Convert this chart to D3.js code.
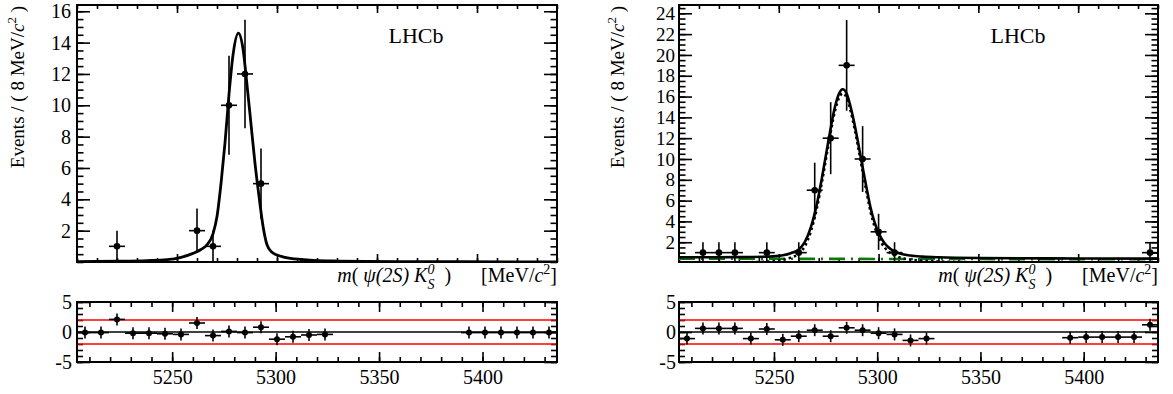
<!DOCTYPE html>
<html>
<head>
<meta charset="utf-8">
<script src="https://cdn.jsdelivr.net/npm/d3@7"></script>
<style>
  body { margin: 0; background: #fff; }
  text { font-family: "Liberation Serif", "Times New Roman", serif; fill: #000; white-space: pre; }
</style>
</head>
<body>
<svg id="chart" width="1173" height="394"></svg>
<script>

// bin centres of the 8 MeV bins between 5200 and 5440
var binCenters = [5204, 5212, 5220, 5228, 5236, 5244, 5252, 5260, 5268, 5276,
                  5284, 5292, 5300, 5308, 5316, 5324, 5332, 5340, 5348, 5356,
                  5364, 5372, 5380, 5388, 5396, 5404, 5412, 5420, 5428, 5436];

var leftCounts  = [0, 0, 1, 0, 0, 0, 0, 2, 1, 10, 12, 5, 0, 0, 0, 0, 0, 0, 0, 0,
                   0, 0, 0, 0, 0, 0, 0, 0, 0, 0];
var rightCounts = [0, 1, 1, 1, 0, 1, 0, 1, 7, 12, 19, 10, 3, 1, 0, 0, 0, 0, 0, 0,
                   0, 0, 0, 0, 0, 0, 0, 0, 0, 1];

var leftPulls  = [-0.1, -0.1, 2.1, -0.2, -0.2, -0.3, -0.4, 1.5, -0.6, 0.1,
                  -0.1, 0.8, -1.2, -0.8, -0.5, -0.4, null, null, null, null,
                  null, null, null, null, -0.1, -0.1, -0.1, -0.1, -0.1, -0.1];
var rightPulls = [-1.1, 0.6, 0.6, 0.6, -1.1, 0.5, -1.3, -0.7, 0.3, -0.7,
                  0.7, 0.3, -0.2, -0.4, -1.4, -1.1, null, null, null, null,
                  null, null, null, null, -0.95, -0.85, -0.85, -0.85, -0.85, 1.2];

// fit curves
var leftFitMass  = [5200, 5220, 5235, 5245, 5252, 5258, 5262, 5265, 5268, 5270, 5272, 5274, 5276, 5278,
                    5280.7, 5283, 5285, 5287, 5289, 5291, 5293, 5295, 5297.5, 5300, 5304, 5312, 5318,
                    5330, 5360, 5440];
var leftFitTotal = [0.03, 0.05, 0.09, 0.15, 0.3, 0.55, 0.8, 1.1, 1.8, 2.9, 5.0, 7.6, 10.7, 13.2,
                    14.6, 13.6, 11.3, 8.8, 6.3, 4.2, 2.3, 1.1, 0.62, 0.45, 0.3, 0.16, 0.1,
                    0.06, 0.03, 0.01];

var rightFitMass   = [5200, 5230, 5245, 5252, 5256, 5260, 5263, 5266, 5269, 5272, 5275, 5278, 5280, 5282,
                      5284, 5286, 5288, 5290, 5292, 5294, 5296, 5298, 5300, 5303, 5306, 5310, 5316,
                      5322, 5330, 5350, 5400, 5440];
var rightFitTotal  = [0.55, 0.57, 0.62, 0.75, 0.95, 1.3, 2.0, 3.4, 5.6, 8.6, 11.9, 14.9, 16.2, 16.7,
                      16.3, 15.0, 13.3, 11.3, 9.2, 7.2, 5.3, 3.9, 2.9, 1.9, 1.35, 0.95, 0.72,
                      0.62, 0.55, 0.48, 0.44, 0.42];
var rightFitSignal = [0.02, 0.06, 0.15, 0.3, 0.52, 0.9, 1.6, 3.0, 5.2, 8.2, 11.5, 14.5, 15.8, 16.3,
                      15.9, 14.6, 12.9, 10.9, 8.8, 6.8, 4.9, 3.5, 2.5, 1.5, 0.95, 0.57, 0.33,
                      0.22, 0.15, 0.07, 0.02, 0.01];
var rightBkgMass  = [5200, 5440];
var rightBkgLevel = [0.42, 0.36];

var massTicks  = [5250, 5300, 5350, 5400];
var leftYTicks  = [2, 4, 6, 8, 10, 12, 14, 16];
var rightYTicks = [2, 4, 6, 8, 10, 12, 14, 16, 18, 20, 22, 24];
var pullYTicks  = [-5, 0, 5];

var svg = d3.select('#chart');

var TOP = 5, BOTTOM = 262, PULL_TOP = 302, PULL_BOTTOM = 362;
var SERIF = '"Liberation Serif", "Times New Roman", serif';

function inwardTicks(g, axis, values, len) {
  g.call(axis.tickValues(values).tickSize(-len).tickFormat(''));
  g.select('.domain').remove();
  g.selectAll('line').attr('stroke', '#000').attr('stroke-width', 1.6);
}

function labels(g, axis, size) {
  g.call(axis)
      .attr('font-family', SERIF)
      .attr('font-size', size);
  g.select('.domain').remove();
}

function zip(xs, ys) {
  return xs.map(function(v, i) { return [v, ys[i]]; });
}

function drawPanel(p) {
  var g = svg.append('g');

  var x = d3.scaleLinear().domain([5200, 5440]).range([p.left, p.right]);
  var xPull = d3.scaleLinear().domain([5204, 5436]).range([p.left, p.right]);
  var y = d3.scaleLinear().domain(p.yDomain).range([BOTTOM, TOP]);
  var yPull = d3.scaleLinear().domain([-5, 5]).range([PULL_BOTTOM, PULL_TOP]);

  var clipId = 'clip' + p.name;
  g.append('clipPath').attr('id', clipId)
      .append('rect')
      .attr('x', p.left).attr('y', TOP)
      .attr('width', p.right - p.left).attr('height', BOTTOM - TOP);

  // ---- main plot ticks
  var minorX = d3.range(5200, 5441, 10);
  var minorY = d3.range(0, p.yDomain[1], 0.5).filter(function(v) { return v >= p.yDomain[0]; });
  inwardTicks(g.append('g').attr('transform', 'translate(0,' + BOTTOM + ')'),
      d3.axisBottom(x), minorX, 4);
  inwardTicks(g.append('g').attr('transform', 'translate(0,' + BOTTOM + ')'),
      d3.axisBottom(x), massTicks, 8);
  inwardTicks(g.append('g').attr('transform', 'translate(0,' + TOP + ')'),
      d3.axisTop(x), minorX, 4);
  inwardTicks(g.append('g').attr('transform', 'translate(0,' + TOP + ')'),
      d3.axisTop(x), massTicks, 8);
  inwardTicks(g.append('g').attr('transform', 'translate(' + p.left + ',0)'),
      d3.axisLeft(y), minorY, 6.5);
  inwardTicks(g.append('g').attr('transform', 'translate(' + p.left + ',0)'),
      d3.axisLeft(y), p.yTicks, 13);
  inwardTicks(g.append('g').attr('transform', 'translate(' + p.right + ',0)'),
      d3.axisRight(y), minorY, 6.5);
  inwardTicks(g.append('g').attr('transform', 'translate(' + p.right + ',0)'),
      d3.axisRight(y), p.yTicks, 13);

  labels(g.append('g').attr('transform', 'translate(' + p.left + ',0)'),
      d3.axisLeft(y).tickValues(p.yTicks).tickSize(0).tickPadding(p.labelPad), p.labelSize);

  g.append('rect')
      .attr('x', p.left).attr('y', TOP)
      .attr('width', p.right - p.left).attr('height', BOTTOM - TOP)
      .attr('fill', 'none').attr('stroke', '#000').attr('stroke-width', 2);

  // ---- fit curves
  var line = d3.line()
      .x(function(d) { return x(d[0]); })
      .y(function(d) { return y(d[1]); })
      .curve(d3.curveMonotoneX);

  var curves = g.append('g').attr('clip-path', 'url(#' + clipId + ')');
  p.curves.forEach(function(c) {
    curves.append('path')
        .attr('d', line(c.points))
        .attr('fill', 'none')
        .attr('stroke', c.color)
        .attr('stroke-width', c.width)
        .attr('stroke-dasharray', c.dash || null);
  });

  // ---- data points
  var pts = binCenters.map(function(m, i) { return { m: m, n: p.counts[i] }; })
      .filter(function(d) { return d.n > 0; });
  var dataG = g.append('g').attr('clip-path', 'url(#' + clipId + ')');
  dataG.selectAll('line.ey').data(pts).enter().append('line')
      .attr('x1', function(d) { return x(d.m); })
      .attr('x2', function(d) { return x(d.m); })
      .attr('y1', function(d) { return y(d.n - Math.sqrt(d.n)); })
      .attr('y2', function(d) { return y(d.n + Math.sqrt(d.n)); })
      .attr('stroke', '#000').attr('stroke-width', 1.6);
  dataG.selectAll('line.ex').data(pts).enter().append('line')
      .attr('x1', function(d) { return x(d.m - 4); })
      .attr('x2', function(d) { return x(d.m + 4); })
      .attr('y1', function(d) { return y(d.n); })
      .attr('y2', function(d) { return y(d.n); })
      .attr('stroke', '#000').attr('stroke-width', 1.6);
  dataG.selectAll('circle').data(pts).enter().append('circle')
      .attr('cx', function(d) { return x(d.m); })
      .attr('cy', function(d) { return y(d.n); })
      .attr('r', 3.3);

  g.append('text')
      .attr('x', p.lhcbX).attr('y', 43)
      .attr('text-anchor', 'middle')
      .style('font-size', '22px')
      .text('LHCb');

  // y title
  var yt = g.append('text')
      .attr('transform', 'translate(' + p.titleX + ',6) rotate(-90)')
      .attr('text-anchor', 'end')
      .style('font-size', '19px');
  yt.append('tspan').text('Events / ( 8 MeV/');
  yt.append('tspan').style('font-style', 'italic').text('c');
  yt.append('tspan').attr('dy', -8).style('font-size', '13px').text('2');
  yt.append('tspan').attr('dy', 8).text(' )');

  // x title
  var xt = g.append('text')
      .attr('x', p.right).attr('y', 282)
      .attr('text-anchor', 'end')
      .style('font-size', '20px');
  xt.append('tspan').style('font-style', 'italic').text('m');
  xt.append('tspan').text('( ');
  xt.append('tspan').style('font-style', 'italic').text('\u03c8(2S) K');
  xt.append('tspan').attr('dy', -8).style('font-size', '14px').style('font-style', 'italic').text('0');
  xt.append('tspan').attr('dx', -7).attr('dy', 15).style('font-size', '14px').style('font-style', 'italic').text('S');
  xt.append('tspan').attr('dy', -7).text('  )      [MeV/');
  xt.append('tspan').style('font-style', 'italic').text('c');
  xt.append('tspan').attr('dy', -8).style('font-size', '14px').text('2');
  xt.append('tspan').attr('dy', 8).text(']');

  // ---- pull panel
  var minorPullX = d3.range(5210, 5431, 10);
  var minorPullY = d3.range(-5, 5.01, 1);
  inwardTicks(g.append('g').attr('transform', 'translate(0,' + PULL_BOTTOM + ')'),
      d3.axisBottom(xPull), minorPullX, 5);
  inwardTicks(g.append('g').attr('transform', 'translate(0,' + PULL_BOTTOM + ')'),
      d3.axisBottom(xPull), massTicks, 10);
  inwardTicks(g.append('g').attr('transform', 'translate(0,' + PULL_TOP + ')'),
      d3.axisTop(xPull), minorPullX, 5);
  inwardTicks(g.append('g').attr('transform', 'translate(0,' + PULL_TOP + ')'),
      d3.axisTop(xPull), massTicks, 10);
  inwardTicks(g.append('g').attr('transform', 'translate(' + p.left + ',0)'),
      d3.axisLeft(yPull), minorPullY, 6);
  inwardTicks(g.append('g').attr('transform', 'translate(' + p.left + ',0)'),
      d3.axisLeft(yPull), pullYTicks, 13);
  inwardTicks(g.append('g').attr('transform', 'translate(' + p.right + ',0)'),
      d3.axisRight(yPull), minorPullY, 6);
  inwardTicks(g.append('g').attr('transform', 'translate(' + p.right + ',0)'),
      d3.axisRight(yPull), pullYTicks, 13);

  labels(g.append('g').attr('transform', 'translate(0,' + PULL_BOTTOM + ')'),
      d3.axisBottom(xPull).tickValues(massTicks).tickSize(0).tickPadding(8).tickFormat(d3.format('d')), 20);
  labels(g.append('g').attr('transform', 'translate(' + p.left + ',0)'),
      d3.axisLeft(yPull).tickValues(pullYTicks).tickSize(0).tickPadding(p.labelPad - 1)
          .tickFormat(function(v) { return v < 0 ? '-' + (-v) : String(v); }), 20);

  [2, -2].forEach(function(v) {
    g.append('line')
        .attr('x1', p.left).attr('x2', p.right)
        .attr('y1', yPull(v)).attr('y2', yPull(v))
        .attr('stroke', '#ff0000').attr('stroke-width', 1.6);
  });
  g.append('line')
      .attr('x1', p.left).attr('x2', p.right)
      .attr('y1', yPull(0)).attr('y2', yPull(0))
      .attr('stroke', '#000').attr('stroke-width', 1.6);

  g.append('rect')
      .attr('x', p.left).attr('y', PULL_TOP)
      .attr('width', p.right - p.left).attr('height', PULL_BOTTOM - PULL_TOP)
      .attr('fill', 'none').attr('stroke', '#000').attr('stroke-width', 2);

  var pulls = binCenters.map(function(m, i) { return { m: m, v: p.pulls[i] }; })
      .filter(function(d) { return d.v !== null; });
  var pg = g.append('g');
  pg.selectAll('line.ex').data(pulls).enter().append('line')
      .attr('x1', function(d) { return x(d.m - 4); })
      .attr('x2', function(d) { return x(d.m + 4); })
      .attr('y1', function(d) { return yPull(d.v); })
      .attr('y2', function(d) { return yPull(d.v); })
      .attr('stroke', '#000').attr('stroke-width', 1.6);
  pg.selectAll('line.ey').data(pulls).enter().append('line')
      .attr('x1', function(d) { return x(d.m); })
      .attr('x2', function(d) { return x(d.m); })
      .attr('y1', function(d) { return yPull(d.v - 1); })
      .attr('y2', function(d) { return yPull(d.v + 1); })
      .attr('stroke', '#000').attr('stroke-width', 1.6);
  pg.selectAll('circle').data(pulls).enter().append('circle')
      .attr('cx', function(d) { return x(d.m); })
      .attr('cy', function(d) { return yPull(d.v); })
      .attr('r', 3);
}

drawPanel({
  name: 'L', left: 77, right: 557, yDomain: [0, 16.4], yTicks: leftYTicks,
  labelPad: 6, labelSize: 20, titleX: 24, lhcbX: 416,
  counts: leftCounts, pulls: leftPulls,
  curves: [
    { points: zip(leftFitMass, leftFitTotal), color: '#000', width: 2.8 }
  ]
});

drawPanel({
  name: 'R', left: 679, right: 1158, yDomain: [0.1, 24.8], yTicks: rightYTicks,
  labelPad: 4, labelSize: 19, titleX: 624, lhcbX: 1018,
  counts: rightCounts, pulls: rightPulls,
  curves: [
    { points: zip(rightBkgMass, rightBkgLevel), color: '#0a7a0a', width: 2.6, dash: '16,6,2,6' },
    { points: zip(rightFitMass, rightFitSignal), color: '#000', width: 2.6, dash: '2.5,3' },
    { points: zip(rightFitMass, rightFitTotal), color: '#000', width: 2.6 }
  ]
});

</script>
</body>
</html>
